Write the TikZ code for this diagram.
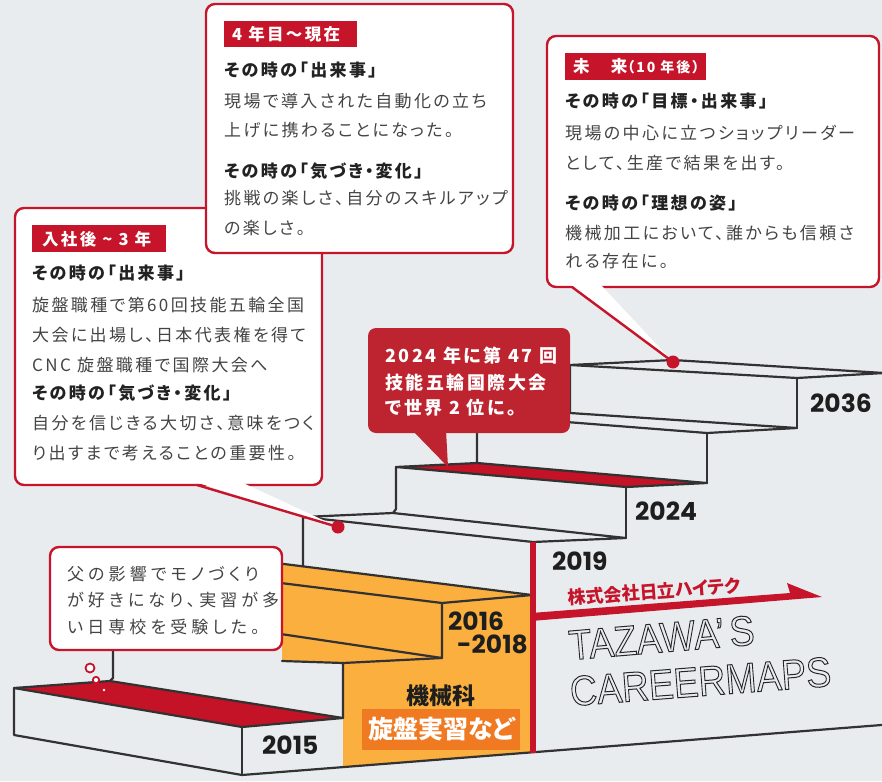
\documentclass[tikz,border=0pt]{standalone}
\usepackage{fontspec}
\newfontfamily\jpf{Noto Sans CJK JP}[RawFeature=+palt, LetterSpace=14]
\newfontfamily\jpw{Noto Sans CJK JP}[RawFeature=+palt, LetterSpace=24]
\newfontfamily\jpn{Noto Sans CJK JP}[RawFeature=+palt]
\newfontfamily\numf{Poppins}
\newfontfamily\tzf{Liberation Sans}
\definecolor{bg}{RGB}{233,236,239}
\definecolor{bred}{RGB}{198,20,42}
\definecolor{stepred}{RGB}{196,18,38}
\definecolor{bubred}{RGB}{190,36,48}
\definecolor{orng}{RGB}{250,175,62}
\definecolor{dorng}{RGB}{240,122,34}
\definecolor{sline}{RGB}{50,50,50}
\definecolor{btxt}{RGB}{68,68,68}
\definecolor{htxt}{RGB}{34,34,34}
\definecolor{ntxt}{RGB}{30,30,30}
\newcommand{\outl}[1]{\special{pdf:literal direct q 1 Tr 1 w 0.15 0.15 0.15 RG}#1\special{pdf:literal direct Q}}
\begin{document}
\begin{tikzpicture}[x=1pt,y=-1pt,
 stair/.style={draw=sline, line width=2.2pt, line join=round, line cap=round},
 bub/.style={draw=bred, line width=2.4pt, fill=white, rounded corners=9pt},
 body/.style={font=\jpf\fontsize{17}{20}\selectfont, text=btxt, inner sep=0pt, anchor=base west},
 bodyw/.style={font=\jpw\fontsize{17}{20}\selectfont, text=btxt, inner sep=0pt, anchor=base west},
 head/.style={font=\jpf\bfseries\fontsize{17}{20}\selectfont, text=htxt, inner sep=0pt, anchor=base west},
 tagt/.style={font=\jpf\bfseries\fontsize{16.5}{20}\selectfont, text=white, inner sep=0pt, anchor=base west},
 yr/.style={font=\numf\bfseries\fontsize{25}{28}\selectfont, text=ntxt, inner sep=0pt, anchor=base west},
 bubt/.style={font=\jpf\bfseries\fontsize{18}{20}\selectfont, text=white, inner sep=0pt, anchor=base west},
 tz/.style={font=\tzf\fontsize{42}{44}\selectfont, inner sep=0pt, anchor=base west, text height=30pt, text depth=0pt},
 tail/.style={draw=bred, line width=2.4pt, line cap=round}
]
\useasboundingbox (0,0) rectangle (882,781);
\fill[bg] (0,0) rectangle (882,781);

% ---------- orange block ----------
\fill[orng] (200,553.5) -- (532,595) -- (532,752) -- (343,767) -- (343,663) -- (282,661) -- (282,620) -- cycle;

% ---------- step 1 (2015) ----------
\fill[stepred] (14,688) -- (110,681) -- (343,718) -- (242,727) -- cycle;
\draw[stair] (113,650) -- (113,678) -- (110,681) -- (14,688) -- (14,735) -- (242,775) -- (884,724.8);
\draw[stair] (14,688) -- (242,727) -- (343,718) -- (110,681);
\draw[stair] (242,727) -- (242,775);

% ---------- orange sub-steps (2016-2018) ----------
\draw[stair] (343,718) -- (343,663) -- (442,658) -- (442,603) -- (532,595);
\draw[stair] (282,661) -- (343,663);
\draw[stair] (200,622) -- (442,658);
\draw[stair] (200,573) -- (442,603);
\draw[stair] (200,553.5) -- (532,595);

% ---------- step 3 (2019) ----------
\draw[stair] (303,566) -- (303,517) -- (533,542) -- (626,538) -- (393,513) -- (303,517);

% ---------- step 4 (2024) ----------
\fill[stepred] (396,467) -- (626,487) -- (707,483) -- (477,463) -- cycle;
\draw[stair] (393,513) -- (396,509) -- (396,467) -- (626,487) -- (707,483) -- (477,463) -- (396,467);
\draw[stair] (626,487) -- (626,538);

% ---------- step 5 ----------
\draw[stair] (477,463) -- (477,415) -- (707,433) -- (797,428) -- (570,413) -- (477,415);
\draw[stair] (707,433) -- (707,483);

% ---------- step 6 (2036) ----------
\draw[stair] (570,413) -- (570,365) -- (797,378) -- (884,373) -- (673,360) -- (570,365);
\draw[stair] (797,378) -- (797,428);

% ---------- red company line ----------
\draw[bred, line width=5.5pt] (533,542) -- (533,753);
\fill[bred] (531,613) -- (790,593) -- (787,583) -- (822,597) -- (531,621) -- cycle;
\node[font=\jpn\bfseries\fontsize{18}{20}\selectfont, text=bred, inner sep=0pt, anchor=base west, rotate=4.3, text depth=0pt] (corp) at (568,605) {株式会社日立ハイテク};

\node[tz, rotate=4.8, xscale=0.89] (tz1) at (570,660) {\outl{TAZAWA’\hspace{6pt}S}};
\node[tz, rotate=4.4, xscale=0.89] (tz2) at (571,706) {\outl{CAREERMAPS}};

% ---------- year labels ----------
\node[yr] (y2015) at (262,754) {2015};
\node[yr] (y2016) at (448,630) {2016};
\node[yr] (y2018) at (457,653) {-2018};
\node[yr] (y2019) at (552,570) {2019};
\node[yr] (y2024) at (635,520) {2024};
\node[yr] (y2036) at (810,412) {2036};

\node[font=\jpn\bfseries\fontsize{23}{26}\selectfont, text=ntxt, inner sep=0pt, anchor=base] (kikai) at (440.5,704.7) {機械科};
\fill[dorng] (362,709) rectangle (520,750);
\node[font=\jpn\bfseries\fontsize{25}{28}\selectfont, text=white, inner sep=0pt, anchor=base] (senban) at (441.5,738.5) {旋盤実習など};

% ---------- bubble: 入社後 ----------
\draw[bub] (15,208) rectangle (322,485);
\fill[white] (195,482) -- (241,482) -- (338,527) -- cycle;
\draw[tail] (197,485) -- (338,527);
\fill[bred] (32,225) rectangle (166,252);
\node[tagt] (t1) at (42,245.3) {入社後 \textasciitilde\ 3 年};
\node[head] (l1a) at (32,279) {その時の「出来事」};
\node[body] (l1b) at (32,311) {旋盤職種で第60回技能五輪全国};
\node[body] (l1c) at (32,341) {大会に出場し、日本代表権を得て};
\node[body] (l1d) at (32,371) {CNC 旋盤職種で国際大会へ};
\node[head] (l1e) at (32,399) {その時の「気づき・変化」};
\node[body] (l1f) at (32,429) {自分を信じきる大切さ、意味をつく};
\node[body] (l1g) at (32,459) {り出すまで考えることの重要性。};
\fill[bred] (338,527) circle[radius=6.5pt];

% ---------- bubble: 4年目 ----------
\draw[bub] (206,4) rectangle (513,253);
\fill[bred] (224,21) rectangle (357,47);
\node[tagt] (t2) at (232,40.8) {4 年目～現在};
\node[head] (l2a) at (224,77) {その時の「出来事」};
\node[body] (l2b) at (224,107) {現場で導入された自動化の立ち};
\node[body] (l2c) at (224,136) {上げに携わることになった。};
\node[head] (l2d) at (224,177) {その時の「気づき\hspace{2pt}・\hspace{2pt}変化」};
\node[body] (l2e) at (224,204) {挑戦の楽しさ、自分のスキルアップ};
\node[body] (l2f) at (224,234) {の楽しさ。};

% ---------- bubble: 未来 ----------
\draw[bub] (547,36) rectangle (879,287);
\fill[white] (570,284) -- (600,284) -- (673,362) -- cycle;
\draw[tail] (572,287) -- (673,362);
\fill[bred] (565,53) rectangle (706,80);
\node[tagt] (t3) at (573,72.3) {未　来{\fontsize{14}{16}\selectfont（10 年後）}};
\node[head] (l3a) at (565,107) {その時の「目標・出来事」};
\node[body] (l3b) at (565,139) {現場の中心に立つショップリーダー};
\node[body] (l3c) at (565,169) {として、生産で結果を出す。};
\node[head] (l3d) at (565,209) {その時の「理想の姿」};
\node[body] (l3e) at (565,239) {機械加工において、誰からも信頼さ};
\node[body] (l3f) at (565,267) {れる存在に。};
\fill[bred] (673,362) circle[radius=6.5pt];

% ---------- red bubble ----------
\fill[bubred, rounded corners=8pt] (368,328) rectangle (570,433);
\fill[bubred] (412,430) -- (446,430) -- (448,467) -- cycle;
\node[bubt] (r1) at (385,362.8) {2024 年に第 47 回};
\node[bubt] (r2) at (385,389.8) {技能五輪国際大会};
\node[bubt] (r3) at (385,414.3) {で世界 2 位に。};

% ---------- small bubble ----------
\draw[bub] (50,547) rectangle (282,650);
\node[bodyw] (s1) at (67,580) {父の影響でモノづくり};
\node[bodyw] (s2) at (67,606.5) {が好きになり、実習が多};
\node[bodyw] (s3) at (67,633) {い日専校を受験した。};
\draw[bred, line width=1.8pt, fill=white] (90,668) circle[radius=4.5pt];
\draw[bred, line width=1.8pt, fill=white] (96,680) circle[radius=3.2pt];
\fill[white] (104,690) circle[radius=1.3pt];
\end{tikzpicture}
\end{document}
